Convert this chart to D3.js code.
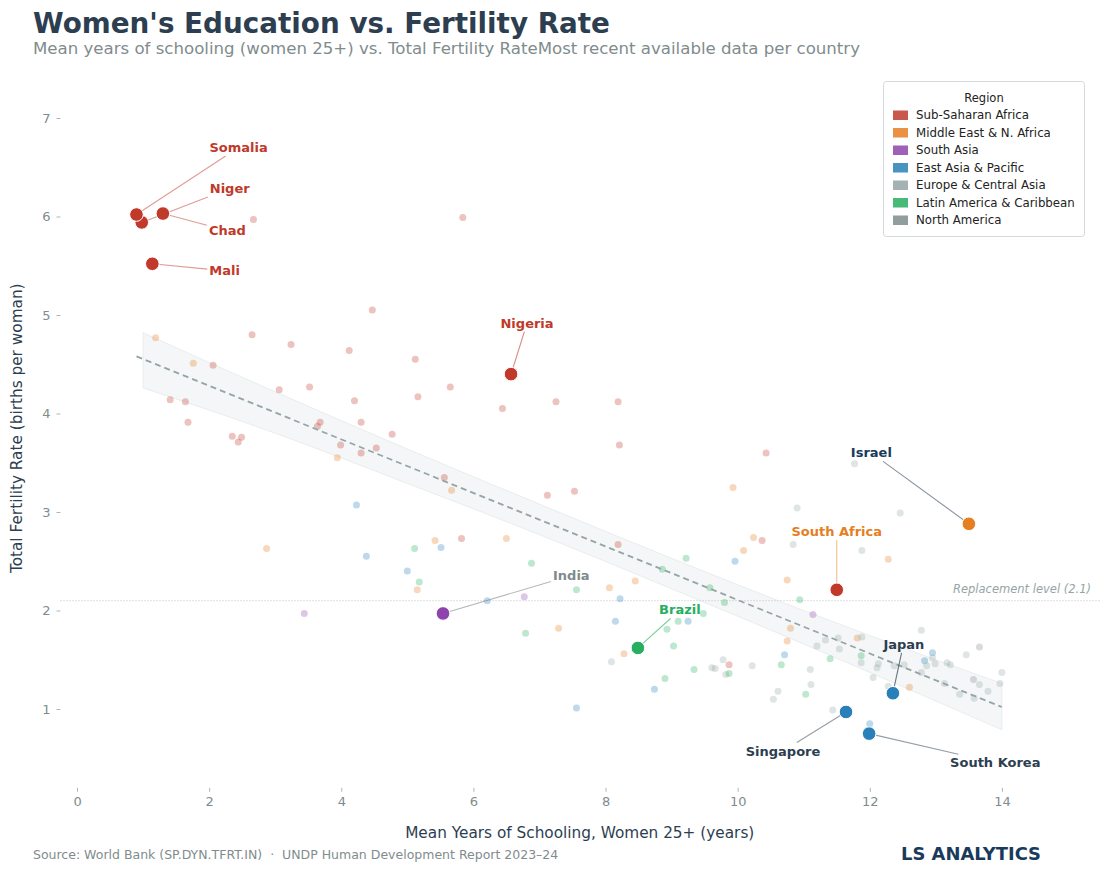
<!DOCTYPE html>
<html lang="en">
<head>
<meta charset="UTF-8">
<title>Women's Education vs. Fertility Rate</title>
<script src="https://d3js.org/d3.v7.min.js"></script>
<style>
  body { margin: 0; background: #fff; }
  svg { font-family: "DejaVu Sans", sans-serif; }
</style>
</head>
<body>
<script>
// ---- data ----
var regions = ["Sub-Saharan Africa", "Middle East & N. Africa", "South Asia",
               "East Asia & Pacific", "Europe & Central Asia", "Latin America & Caribbean", "North America"];
var regionColors = ["#c0392b", "#e67e22", "#8e44ad", "#2980b9", "#95a5a6", "#27ae60", "#7f8c8d"];

// background countries, [years of schooling, fertility rate]
var ssa = [[2.67,5.97],[4.47,5.05],[2.65,4.80],[3.24,4.70],[4.12,4.64],[5.12,4.55],[2.06,4.49],[3.06,4.24],
  [3.52,4.27],[5.16,4.17],[1.41,4.14],[1.64,4.12],[4.20,4.13],[1.68,3.91],[3.68,3.91],[3.64,3.87],[4.30,3.91],
  [4.77,3.79],[2.35,3.77],[2.49,3.76],[2.44,3.71],[3.99,3.68],[4.53,3.65],[4.30,3.60],[5.84,5.99],[5.65,4.27],
  [6.44,4.05],[7.25,4.12],[8.19,4.12],[8.21,3.68],[5.56,3.35],[7.12,3.17],[7.53,3.21],[5.82,2.73],[8.19,2.67],
  [9.87,1.45],[10.43,3.60],[10.37,2.71]];
var mena = [[1.19,4.77],[1.76,4.51],[3.94,3.55],[2.87,2.63],[5.15,2.21],[5.67,3.22],[9.93,3.25],[5.42,2.71],
  [6.50,2.73],[10.24,2.74],[10.09,2.61],[8.06,2.23],[8.45,2.30],[7.29,1.82],[8.28,1.56],[12.28,2.52],
  [10.75,2.31],[10.80,1.82],[10.75,1.69],[11.81,1.72],[12.60,1.22]];
var sas = [[3.44,1.97],[6.77,2.14],[11.14,1.96]];
var eap = [[4.23,3.07],[4.38,2.55],[5.00,2.40],[5.51,2.64],[9.96,2.50],[6.21,2.10],[8.22,2.12],[8.15,1.89],
  [9.25,1.89],[8.74,1.20],[7.56,1.01],[10.71,1.55],[12.95,1.57],[12.83,1.49],[12.00,0.85]];
var eca = [[8.09,1.48],[9.78,1.50],[9.61,1.42],[9.66,1.41],[10.22,1.44],[9.82,1.35],[11.77,3.49],[10.90,3.04],
  [12.46,2.99],[10.84,2.67],[11.88,2.61],[12.78,1.80],[11.33,1.70],[11.52,1.72],[11.88,1.73],[11.20,1.64],
  [11.54,1.61],[11.87,1.47],[12.11,1.42],[12.13,1.46],[12.37,1.44],[12.52,1.45],[12.95,1.52],[12.86,1.44],
  [12.99,1.46],[13.17,1.47],[13.22,1.45],[12.78,1.37],[13.46,1.55],[14.00,1.37],[13.66,1.25],[13.79,1.18],
  [13.97,1.26],[13.13,1.26],[13.36,1.15],[13.58,1.11],[12.28,1.23],[12.05,1.32],[11.10,1.40],[11.11,1.25],
  [10.61,1.18],[10.54,1.10],[11.44,0.99]];
var lac = [[5.11,2.63],[5.18,2.29],[9.22,2.53],[6.88,2.48],[8.86,2.42],[7.56,2.21],[9.58,2.23],[9.80,2.08],
  [9.48,1.97],[9.10,1.89],[8.93,1.81],[6.79,1.77],[9.03,1.64],[9.34,1.40],[9.87,1.36],[8.90,1.31],
  [10.94,2.11],[10.66,1.45],[11.40,1.51],[11.87,1.54],[11.03,1.15]];
var nam = [[13.66,1.63],[13.57,1.30]];
var background = [ssa, mena, sas, eap, eca, lac, nam];

// highlighted countries
var hlNames  = ["Niger", "Somalia", "Chad", "Mali", "Nigeria", "India", "Brazil", "South Africa", "Israel", "Japan", "Singapore", "South Korea"];
var hlX      = [0.98, 0.90, 1.30, 1.14, 6.57, 5.54, 8.49, 11.50, 13.50, 12.35, 11.64, 11.99];
var hlY      = [5.94, 6.02, 6.03, 5.52, 4.40, 1.97, 1.62, 2.21, 2.88, 1.16, 0.97, 0.75];
var hlRegion = [0, 0, 0, 0, 0, 2, 5, 0, 1, 3, 3, 3];

// trend line + confidence band
var trendX = [0.9, 14];
var trendY = [4.58, 1.02];
var bandX  = [1, 3, 5, 7, 9, 11, 13, 14];
var bandLo = [4.26, 3.80, 3.29, 2.77, 2.22, 1.66, 1.08, 0.79];
var bandHi = [4.82, 4.22, 3.64, 3.08, 2.53, 2.00, 1.50, 1.26];

var xTicks = [0, 2, 4, 6, 8, 10, 12, 14];
var yTicks = [1, 2, 3, 4, 5, 6, 7];
var replacement = 2.1;

// label placement: [dx, dy, anchor, text colour, line colour]
var labelStyle = {
  "Somalia":      [73, -67, "start",  "#c0392b", "rgba(192,57,43,0.5)"],
  "Niger":        [68, -34, "start",  "#c0392b", "rgba(192,57,43,0.5)"],
  "Chad":         [46,  17, "start",  "#c0392b", "rgba(192,57,43,0.5)"],
  "Mali":         [57,   7, "start",  "#c0392b", "rgba(192,57,43,0.5)"],
  "Nigeria":      [16, -51, "middle", "#c0392b", "rgba(192,57,43,0.6)"],
  "India":        [110,-38, "start",  "#7f8c8d", "rgba(127,140,141,0.6)"],
  "Brazil":       [42, -38, "middle", "#27ae60", "rgba(39,174,96,0.6)"],
  "South Africa": [0,  -58, "middle", "#e67e22", "rgba(230,126,34,0.5)"],
  "Israel":       [-118,-71,"start",  "#1a3a5c", "rgba(52,73,94,0.6)"],
  "Japan":        [11, -49, "middle", "#2c3e50", "rgba(44,62,80,0.7)"],
  "Singapore":    [-63, 39, "middle", "#2c3e50", "rgba(44,62,80,0.5)"],
  "South Korea":  [81,  29, "start",  "#2c3e50", "rgba(44,62,80,0.5)"]
};

(function(){
// ---- layout ----
var W = 1111, H = 872;
var mLeft = 60.5, mRight = 1101, mTop = 68.75, mBottom = 787.8;

var svg = d3.select("body").append("svg").attr("width", W).attr("height", H);

var x = d3.scaleLinear().domain([-0.25, 15.5]).range([mLeft, mRight]);
var y = d3.scaleLinear().domain([0.2, 7.5]).range([mBottom, mTop]);

// titles
svg.append("text").attr("x", 33).attr("y", 33)
  .attr("font-size", 27.8).attr("font-weight", "bold").attr("fill", "#2c3e50")
  .text("Women's Education vs. Fertility Rate");
svg.append("text").attr("x", 33).attr("y", 54)
  .attr("font-size", 16.6).attr("fill", "#7f8c8d")
  .text("Mean years of schooling (women 25+) vs. Total Fertility RateMost recent available data per country");

// axes (no domain line)
var xAxis = svg.append("g").attr("transform", "translate(0," + mBottom + ")")
  .call(d3.axisBottom(x).tickValues(xTicks).tickSize(4).tickPadding(5));
var yAxis = svg.append("g").attr("transform", "translate(" + mLeft + ",0)")
  .call(d3.axisLeft(y).tickValues(yTicks).tickSize(4).tickPadding(6));
[xAxis, yAxis].forEach(function(g){
  g.select(".domain").remove();
  g.selectAll("line").attr("stroke", "#95a5a6").attr("stroke-width", 0.8);
  g.selectAll("text").attr("fill", "#7f8c8d").attr("font-size", 13).attr("font-family", "DejaVu Sans");
});

svg.append("text").attr("x", (mLeft + mRight) / 2 - 1).attr("y", 838)
  .attr("text-anchor", "middle").attr("font-size", 15.3).attr("fill", "#2c3e50")
  .text("Mean Years of Schooling, Women 25+ (years)");
svg.append("text").attr("transform", "translate(22," + ((mTop + mBottom) / 2) + ") rotate(-90)")
  .attr("text-anchor", "middle").attr("font-size", 15.3).attr("fill", "#2c3e50")
  .text("Total Fertility Rate (births per woman)");

// confidence band
var band = bandX.map(function(v, i){ return [v, bandLo[i], bandHi[i]]; });
svg.append("path").datum(band)
  .attr("d", d3.area().x(function(d){ return x(d[0]); })
    .y0(function(d){ return y(d[1]); }).y1(function(d){ return y(d[2]); }).curve(d3.curveMonotoneX))
  .attr("fill", "#ecf0f1").attr("fill-opacity", 0.6)
  .attr("stroke", "#dfe4e6").attr("stroke-width", 0.6);

// replacement level
svg.append("line").attr("x1", mLeft).attr("x2", mRight)
  .attr("y1", y(replacement)).attr("y2", y(replacement))
  .attr("stroke", "#bdc3c7").attr("stroke-width", 1).attr("stroke-dasharray", "1,2");
svg.append("text").attr("x", 1091).attr("y", y(replacement) - 8)
  .attr("text-anchor", "end").attr("font-size", 11.5).attr("font-style", "italic").attr("fill", "#95a5a6")
  .text("Replacement level (" + replacement + ")");

// background points
background.forEach(function(pts, r){
  svg.append("g").selectAll("circle").data(pts).enter().append("circle")
    .attr("cx", function(d){ return x(d[0]); })
    .attr("cy", function(d){ return y(d[1]); })
    .attr("r", 3.5)
    .attr("fill", regionColors[r]).attr("fill-opacity", 0.3);
});

// trend line
svg.append("line")
  .attr("x1", x(trendX[0])).attr("y1", y(trendY[0]))
  .attr("x2", x(trendX[1])).attr("y2", y(trendY[1]))
  .attr("stroke", "#95a5a6").attr("stroke-width", 1.8).attr("stroke-dasharray", "6,4");

// annotations
var lineG = svg.append("g");
var dotG = svg.append("g");
var labelG = svg.append("g");
hlNames.forEach(function(name, i){
  var px = x(hlX[i]), py = y(hlY[i]);
  var st = labelStyle[name];
  var t = labelG.append("text").attr("x", px + st[0]).attr("y", py + st[1])
    .attr("dy", "0.35em").attr("text-anchor", st[2])
    .attr("font-size", 13).attr("font-weight", "bold").attr("fill", st[3])
    .text(name);
  var b = t.node().getBBox();
  var cx = b.x + b.width / 2, cy = b.y + b.height / 2;
  var dx = px - cx, dy = py - cy;
  var hw = b.width / 2 + 2, hh = b.height / 2 + 1;
  var k = Math.min(dx !== 0 ? hw / Math.abs(dx) : Infinity, dy !== 0 ? hh / Math.abs(dy) : Infinity);
  lineG.append("line")
    .attr("x1", cx + k * dx).attr("y1", cy + k * dy)
    .attr("x2", px).attr("y2", py)
    .attr("stroke", st[4]).attr("stroke-width", 1.1);
  dotG.append("circle").attr("cx", px).attr("cy", py).attr("r", 6.8)
    .attr("fill", regionColors[hlRegion[i]]).attr("stroke", "#fff").attr("stroke-width", 1);
});

// legend
var lg = svg.append("g").attr("transform", "translate(883.5,81.5)");
lg.append("rect").attr("width", 201).attr("height", 155).attr("rx", 3)
  .attr("fill", "#fff").attr("fill-opacity", 0.9).attr("stroke", "#d5d8dc").attr("stroke-width", 1);
lg.append("text").attr("x", 100.5).attr("y", 20).attr("text-anchor", "middle")
  .attr("font-size", 11.5).attr("fill", "#222").text("Region");
regions.forEach(function(r, i){
  var yy = 33.5 + i * 17.5;
  lg.append("rect").attr("x", 9.5).attr("y", yy - 4.5).attr("width", 15).attr("height", 9.5)
    .attr("fill", regionColors[i]).attr("fill-opacity", 0.85);
  lg.append("text").attr("x", 32.5).attr("y", yy).attr("dy", "0.35em")
    .attr("font-size", 11.8).attr("fill", "#222").text(r);
});

// footer
svg.append("text").attr("x", 33).attr("y", 859)
  .attr("font-size", 12.5).attr("fill", "#7f8c8d")
  .text("Source: World Bank (SP.DYN.TFRT.IN) \u00a0\u00b7\u00a0 UNDP Human Development Report 2023\u201324");
svg.append("text").attr("x", 1041).attr("y", 860).attr("text-anchor", "end")
  .attr("font-size", 17.9).attr("font-weight", "bold").attr("fill", "#1a3a5c")
  .text("LS ANALYTICS");
})();
</script>
</body>
</html>
